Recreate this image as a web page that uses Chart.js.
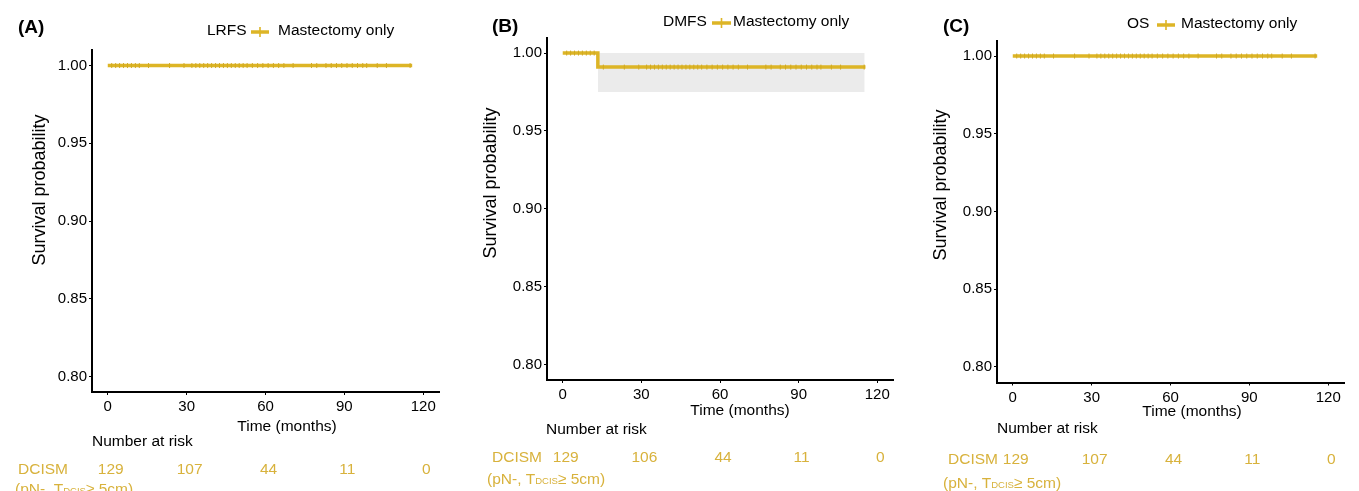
<!DOCTYPE html>
<html>
<head>
<meta charset="utf-8">
<script src="https://cdn.jsdelivr.net/npm/chart.js@4.4.1/dist/chart.umd.min.js"></script>
<style>
    html, body { margin: 0; padding: 0; background: #fff; }
    #lienzo { position: relative; width: 1359px; height: 491px; overflow: hidden; }
    #lienzo canvas { position: absolute; left: 0; top: 0; }
</style>
</head>
<body>
<div id="lienzo">
    <canvas id="panelA" width="1359" height="491"></canvas>
    <canvas id="panelB" width="1359" height="491"></canvas>
    <canvas id="panelC" width="1359" height="491"></canvas>
</div>
<script>
// Ticks de los ejes
const tiemposTicks = [0, 30, 60, 90, 120];
const supervivenciaTicks = [0.80, 0.85, 0.90, 0.95, 1.00];

// Curvas de Kaplan-Meier (tiempo en meses, probabilidad)
const lrfsTiempo = [0, 115.8];
const lrfsSuperv = [1.00, 1.00];
const dmfsTiempo = [0, 13.4, 115.5];
const dmfsSuperv = [1.00, 0.991, 0.991];
const osTiempo = [0, 115.8];
const osSuperv = [1.00, 1.00];

// Intervalo de confianza de DMFS
const dmfsIcTiempo = [13.4, 115.2];
const dmfsIcSuperior = [1.00, 1.00];
const dmfsIcInferior = [0.975, 0.975];

// Tiempos de censura (marcas +)
const tiemposCensura = [1.5, 3, 4.5, 6, 7.5, 9, 10.5, 12, 15.5, 23.5, 29, 32, 33.5, 35, 36.5, 38, 39.5,
    41, 42.5, 44, 45.5, 47, 48.5, 50, 51.5, 53, 55, 57, 59, 61, 63, 65, 67, 70.5, 77.5, 79.5,
    83, 85, 87, 89, 91, 93, 95, 97, 98.5, 102.5, 106, 115];

// Número en riesgo
const riesgoA = [129, 107, 44, 11, 0];
const riesgoB = [129, 106, 44, 11, 0];
const riesgoC = [129, 107, 44, 11, 0];

const FUENTE = '"Liberation Sans", Arial, Helvetica, sans-serif';
const DORADO = '#DDB526';
const DORADO_OSCURO = '#D1AA22';
const DORADO_TEXTO = '#D8B23C';
const ANCHO_Y = 50;
const ALTO_X = 30;

// Valor de la curva escalonada en un tiempo dado
function valorEscalon(tiempos, superv, t) {
    let v = superv[0];
    for (let i = 0; i < tiempos.length; i++) {
        if (tiempos[i] <= t) v = superv[i];
    }
    return v;
}

function aPuntos(xs, ys) {
    return xs.map((x, i) => ({ x: x, y: ys[i] }));
}

// Textos del panel: letra, leyenda, títulos de ejes y tabla de riesgo
function dibujarTextos(chart, p) {
    const ctx = chart.ctx;
    const escalaX = chart.scales.x;
    ctx.save();
    ctx.textBaseline = 'middle';
    ctx.fillStyle = '#000';

    ctx.font = `bold 19px ${FUENTE}`;
    ctx.textAlign = 'left';
    ctx.fillText(p.letra, p.letraPos[0], p.letraPos[1]);

    ctx.font = `15.5px ${FUENTE}`;
    ctx.fillText(p.leyenda.titulo, p.leyenda.x, p.leyenda.y);
    ctx.fillText('Mastectomy only', p.leyenda.xTexto, p.leyenda.y);
    ctx.strokeStyle = DORADO;
    ctx.lineWidth = 3.5;
    ctx.beginPath();
    ctx.moveTo(p.leyenda.marca[0], p.leyenda.y + 1);
    ctx.lineTo(p.leyenda.marca[1], p.leyenda.y + 1);
    ctx.stroke();
    ctx.lineWidth = 1.6;
    const medio = (p.leyenda.marca[0] + p.leyenda.marca[1]) / 2;
    ctx.beginPath();
    ctx.moveTo(medio, p.leyenda.y - 4);
    ctx.lineTo(medio, p.leyenda.y + 6);
    ctx.stroke();

    // Título eje Y
    ctx.save();
    ctx.translate(p.tituloY[0], p.tituloY[1]);
    ctx.rotate(-Math.PI / 2);
    ctx.textAlign = 'center';
    ctx.font = `18px ${FUENTE}`;
    ctx.fillText('Survival probability', 0, 0);
    ctx.restore();

    // Título eje X
    ctx.textAlign = 'center';
    ctx.fillText('Time (months)', p.tituloX[0], p.tituloX[1]);

    // Tabla de número en riesgo
    ctx.textAlign = 'left';
    ctx.fillText('Number at risk', p.riesgoTitulo[0], p.riesgoTitulo[1]);
    ctx.fillStyle = DORADO_TEXTO;
    ctx.fillText('DCISM', p.etiqueta[0], p.etiqueta[1]);
    ctx.textAlign = 'center';
    tiemposTicks.forEach((t, i) => {
        ctx.fillText(String(p.riesgo[i]), escalaX.getPixelForValue(t) + 3, p.etiqueta[1]);
    });

    // Segunda línea: (pN-, T_DCIS ≥ 5cm)
    ctx.textAlign = 'left';
    ctx.textBaseline = 'alphabetic';
    let x = p.etiqueta2[0];
    const base = p.etiqueta2[1] + 5.5;
    ctx.font = `15.5px ${FUENTE}`;
    ctx.fillText('(pN-, T', x, base);
    x += ctx.measureText('(pN-, T').width;
    ctx.font = `9.5px ${FUENTE}`;
    ctx.fillText('DCIS', x, base);
    x += ctx.measureText('DCIS').width;
    ctx.font = `15.5px ${FUENTE}`;
    ctx.fillText('\u2265 5cm)', x, base);
    ctx.restore();
}

function crearPanel(id, p) {
    const datasets = [];
    if (p.icTiempo) {
        datasets.push({
            data: aPuntos(p.icTiempo, p.icSuperior),
            borderWidth: 0, pointRadius: 0, fill: false, stepped: 'before', order: 3
        });
        datasets.push({
            data: aPuntos(p.icTiempo, p.icInferior),
            borderWidth: 0, pointRadius: 0, fill: '-1', backgroundColor: '#EBEBEB', stepped: 'before', order: 3
        });
    }
    datasets.push({
        data: aPuntos(p.tiempo, p.superv),
        borderColor: DORADO, borderWidth: 3.5, pointRadius: 0, fill: false, stepped: 'before', order: 1
    });
    const fin = p.tiempo[p.tiempo.length - 1];
    datasets.push({
        data: tiemposCensura.filter(t => t <= fin).map(t => ({ x: t, y: valorEscalon(p.tiempo, p.superv, t) })),
        showLine: false, pointStyle: 'line', rotation: 90, pointRadius: 2.5,
        borderColor: DORADO_OSCURO, pointBorderColor: DORADO_OSCURO, pointBorderWidth: 1, order: 0
    });

    const ejeComun = {
        grid: { display: true, drawOnChartArea: false, drawTicks: true, tickLength: 3, color: '#000', lineWidth: 1 },
        border: { display: true, color: '#000', width: 2 }
    };

    return new Chart(document.getElementById(id), {
        type: 'line',
        data: { datasets: datasets },
        options: {
            responsive: false,
            animation: false,
            events: [],
            layout: {
                padding: {
                    left: p.area.left - ANCHO_Y,
                    right: 1359 - p.area.right,
                    top: p.area.top,
                    bottom: 491 - p.area.bottom - ALTO_X
                }
            },
            plugins: { legend: { display: false }, tooltip: { enabled: false } },
            scales: {
                x: {
                    ...ejeComun,
                    type: 'linear',
                    min: -6,
                    max: 126,
                    afterFit: s => { s.height = ALTO_X; },
                    afterBuildTicks: s => { s.ticks = tiemposTicks.map(v => ({ value: v })); },
                    ticks: { color: '#000', font: { family: FUENTE, size: 15 }, padding: 3, maxRotation: 0, autoSkip: false, callback: v => v }
                },
                y: {
                    ...ejeComun,
                    type: 'linear',
                    min: 0.79,
                    max: 1.01,
                    afterFit: s => { s.width = ANCHO_Y; },
                    afterBuildTicks: s => { s.ticks = supervivenciaTicks.map(v => ({ value: v })); },
                    ticks: { color: '#000', font: { family: FUENTE, size: 15 }, padding: 2, callback: v => v.toFixed(2) }
                }
            }
        },
        plugins: [{ id: 'textosPanel', afterDraw: chart => dibujarTextos(chart, p) }]
    });
}

crearPanel('panelA', {
    tiempo: lrfsTiempo, superv: lrfsSuperv, riesgo: riesgoA,
    area: { left: 92, top: 50, right: 439, bottom: 392 },
    letra: '(A)', letraPos: [18, 28],
    leyenda: { titulo: 'LRFS', x: 207, y: 31, marca: [251, 269], xTexto: 278 },
    tituloY: [40, 190], tituloX: [287, 427],
    riesgoTitulo: [92, 442], etiqueta: [18, 470], etiqueta2: [15, 488]
});

crearPanel('panelB', {
    tiempo: dmfsTiempo, superv: dmfsSuperv, riesgo: riesgoB,
    icTiempo: dmfsIcTiempo, icSuperior: dmfsIcSuperior, icInferior: dmfsIcInferior,
    area: { left: 547, top: 37.5, right: 893, bottom: 380 },
    letra: '(B)', letraPos: [492, 27],
    leyenda: { titulo: 'DMFS', x: 663, y: 22, marca: [712, 731], xTexto: 733 },
    tituloY: [491, 183], tituloX: [740, 411],
    riesgoTitulo: [546, 430], etiqueta: [492, 458], etiqueta2: [487, 478]
});

crearPanel('panelC', {
    tiempo: osTiempo, superv: osSuperv, riesgo: riesgoC,
    area: { left: 997, top: 40.5, right: 1344, bottom: 382.5 },
    letra: '(C)', letraPos: [943, 27],
    leyenda: { titulo: 'OS', x: 1127, y: 24, marca: [1157, 1175], xTexto: 1181 },
    tituloY: [941, 185], tituloX: [1192, 412],
    riesgoTitulo: [997, 429], etiqueta: [948, 460], etiqueta2: [943, 482]
});
</script>
</body>
</html>
